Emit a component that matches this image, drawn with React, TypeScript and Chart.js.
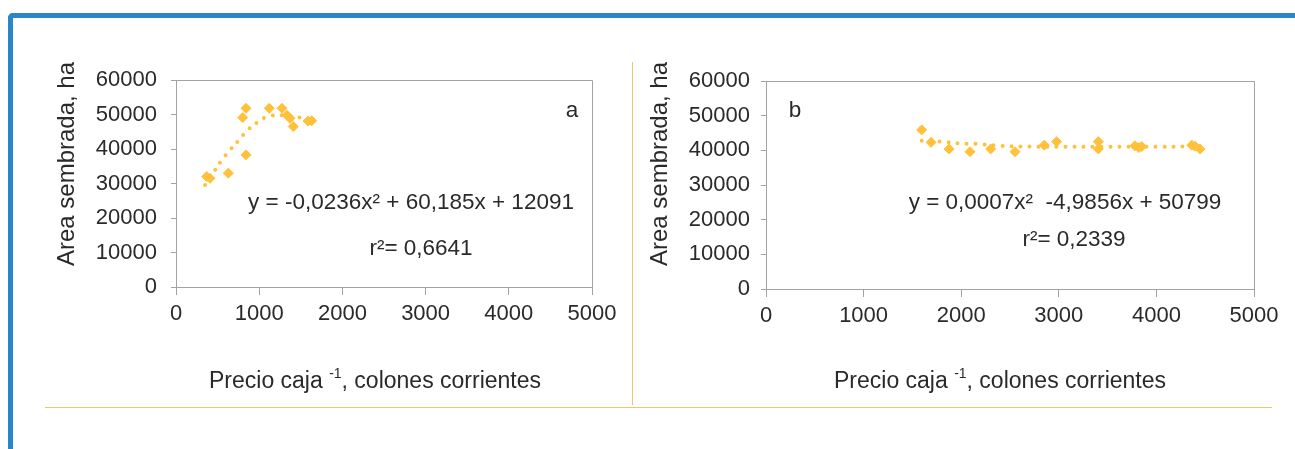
import React, { useEffect, useRef } from 'react';
import { Chart, registerables } from 'chart.js';

Chart.register(...registerables);

const FONT = '"Liberation Sans", Arial, Helvetica, sans-serif';
const TEXT = '#2a2a2a';
const GOLD = '#FFC13B';
const AXIS = '#a3a3a3';
const DIVIDER = '#EFC56E';
const BLUE = '#2A86C8';

// ---- Panel a ----
const precioA = [369, 409, 629, 802, 841, 841, 1121, 1274, 1334, 1370, 1410, 1587, 1631];
const areaA = [32000, 31500, 33000, 49100, 51800, 38300, 51800, 51800, 49800, 48900, 46500, 48100, 48200];
const trendPrecioA = [349, 450, 550, 650, 750, 850, 975, 1100, 1275, 1440, 1530, 1630];
const trendAreaA = [29600, 33200, 36800, 39700, 42400, 45200, 47700, 49400, 49800, 49400, 48600, 47300];

// ---- Panel b ----
const precioB = [1595, 1691, 1875, 2090, 2302, 2551, 2851, 2978, 3405, 3405, 3780, 3820, 3850, 4362, 4396, 4447];
const areaB = [45900, 42300, 40400, 39600, 40400, 39600, 41500, 42500, 42500, 40400, 41300, 40800, 41100, 41500, 41200, 40400];
const trendPrecioB = [1595, 1800, 2000, 2200, 2400, 2700, 3000, 3500, 4000, 4447];
const trendAreaB = [42800, 42500, 42000, 41800, 41300, 41100, 41050, 41050, 41050, 41100];

// ---- Axes ----
const xTicks = [0, 1000, 2000, 3000, 4000, 5000];
const yTicks = [0, 10000, 20000, 30000, 40000, 50000, 60000];

// ---- Texts ----
const yTitle = 'Area sembrada, ha';
const xTitleMain = 'Precio caja ';
const xTitleSup = '-1';
const xTitleRest = ', colones corrientes';
const labelA = 'a';
const eqA = 'y = -0,0236x² + 60,185x + 12091';
const r2A = 'r²= 0,6641';
const labelB = 'b';
const eqB = 'y = 0,0007x²  -4,9856x + 50799';
const r2B = 'r²= 0,2339';

type Layout = {
  left: number; top: number; width: number; height: number;
  yWidth: number; xHeight: number; padTop: number; padRight: number;
  tickPad: number;
  yTitleX: number; yTitleY: number;
  xTitleDX: number; xTitleDY: number;
  letterDX: number; letterDY: number;
  eqDX: number; eqDY: number;
  r2DX: number; r2DY: number;
};

const layoutA: Layout = {
  left: 40, top: 50, width: 585, height: 350,
  yWidth: 136, xHeight: 113, padTop: 30, padRight: 33, tickPad: 14,
  yTitleX: 27, yTitleY: 114,
  xTitleDX: 199, xTitleDY: 95,
  letterDX: 396, letterDY: 31,
  eqDX: 235, eqDY: 123,
  r2DX: 245, r2DY: 169,
};

const layoutB: Layout = {
  left: 640, top: 50, width: 647, height: 350,
  yWidth: 126, xHeight: 111, padTop: 31, padRight: 33, tickPad: 11,
  yTitleX: 20, yTitleY: 114,
  xTitleDX: 234, xTitleDY: 93,
  letterDX: 29, letterDY: 30,
  eqDX: 299, eqDY: 122,
  r2DX: 308, r2DY: 159,
};

function Panel(props: {
  xs: number[]; ys: number[]; txs: number[]; tys: number[];
  letter: string; eq: string; r2: string; L: Layout;
}) {
  const ref = useRef<HTMLCanvasElement | null>(null);
  useEffect(() => {
    const { xs, ys, txs, tys, letter, eq, r2, L } = props;
    if (!ref.current) return;
    const points = xs.map((x, i) => ({ x, y: ys[i] }));
    const trend = txs.map((x, i) => ({ x, y: tys[i] }));

    const boxPlugin = {
      id: 'box',
      beforeDatasetsDraw(chart: any) {
        const { ctx, chartArea: ca } = chart;
        ctx.save();
        ctx.strokeStyle = AXIS;
        ctx.lineWidth = 1;
        const l = Math.round(ca.left) + 0.5;
        const t = Math.round(ca.top) + 0.5;
        const r = Math.round(ca.right) + 0.5;
        const b = Math.round(ca.bottom) + 0.5;
        ctx.beginPath();
        ctx.moveTo(l, t);
        ctx.lineTo(r, t);
        ctx.lineTo(r, b);
        ctx.stroke();
        ctx.restore();
      },
      afterDraw(chart: any) {
        const { ctx, chartArea: ca } = chart;
        ctx.save();
        ctx.fillStyle = TEXT;
        // y title
        ctx.save();
        ctx.font = `24px ${FONT}`;
        ctx.translate(L.yTitleX, L.yTitleY);
        ctx.rotate(-Math.PI / 2);
        ctx.textAlign = 'center';
        ctx.textBaseline = 'middle';
        ctx.fillText(yTitle, 0, 0);
        ctx.restore();
        // x title with superscript
        const mainFont = `23px ${FONT}`;
        const supFont = `14px ${FONT}`;
        ctx.font = mainFont;
        const w1 = ctx.measureText(xTitleMain).width;
        const w3 = ctx.measureText(xTitleRest).width;
        ctx.font = supFont;
        const w2 = ctx.measureText(xTitleSup).width;
        const total = w1 + w2 + w3;
        const cx = ca.left + L.xTitleDX;
        const cy = ca.bottom + L.xTitleDY;
        let x0 = cx - total / 2;
        ctx.textAlign = 'left';
        ctx.textBaseline = 'middle';
        ctx.font = mainFont;
        ctx.fillText(xTitleMain, x0, cy);
        x0 += w1;
        ctx.font = supFont;
        ctx.fillText(xTitleSup, x0, cy - 8);
        x0 += w2;
        ctx.font = mainFont;
        ctx.fillText(xTitleRest, x0, cy);
        // letter and equation texts
        ctx.textAlign = 'center';
        ctx.font = `22.5px ${FONT}`;
        ctx.fillText(letter, ca.left + L.letterDX, ca.top + L.letterDY);
        ctx.fillText(eq, ca.left + L.eqDX, ca.top + L.eqDY);
        ctx.fillText(r2, ca.left + L.r2DX, ca.top + L.r2DY);
        ctx.restore();
      },
    };

    const chart = new Chart(ref.current, {
      type: 'scatter',
      data: {
        datasets: [
          {
            data: points,
            pointStyle: 'rectRot',
            pointRadius: 5,
            pointHoverRadius: 5,
            backgroundColor: GOLD,
            borderColor: GOLD,
            borderWidth: 1,
            showLine: false,
          },
          {
            data: trend,
            showLine: true,
            pointRadius: 0,
            pointHoverRadius: 0,
            borderColor: GOLD,
            backgroundColor: GOLD,
            borderWidth: 4,
            borderDash: [0, 9],
            borderCapStyle: 'round',
            tension: 0.4,
            fill: false,
          } as any,
        ],
      },
      options: {
        animation: false,
        responsive: false,
        devicePixelRatio: 1,
        events: [],
        layout: { padding: { top: L.padTop, right: L.padRight, left: 0, bottom: 0 } },
        plugins: { legend: { display: false }, tooltip: { enabled: false } },
        scales: {
          x: {
            type: 'linear',
            min: 0,
            max: 5000,
            afterBuildTicks: (s: any) => { s.ticks = xTicks.map((v) => ({ value: v })); },
            afterFit: (s: any) => { s.height = L.xHeight; },
            grid: { drawOnChartArea: false, drawTicks: true, tickLength: 8, color: AXIS },
            border: { display: true, color: AXIS },
            ticks: {
              color: TEXT,
              padding: 6,
              maxRotation: 0,
              font: { family: FONT, size: 22 },
              callback: (v: any) => String(v),
            },
            title: { display: false },
          },
          y: {
            type: 'linear',
            min: 0,
            max: 60000,
            afterBuildTicks: (s: any) => { s.ticks = yTicks.map((v) => ({ value: v })); },
            afterFit: (s: any) => { s.width = L.yWidth; },
            grid: { drawOnChartArea: false, drawTicks: true, tickLength: 5, color: AXIS },
            border: { display: true, color: AXIS },
            ticks: {
              color: TEXT,
              padding: L.tickPad,
              font: { family: FONT, size: 22 },
              callback: (v: any) => String(v),
            },
            title: { display: false },
          },
        },
      },
      plugins: [boxPlugin],
    } as any);
    return () => chart.destroy();
  }, []);
  const L = props.L;
  return (
    <canvas
      ref={ref}
      width={L.width}
      height={L.height}
      style={{ position: 'absolute', left: L.left, top: L.top, width: L.width, height: L.height }}
    />
  );
}

export default function App() {
  return (
    <div style={{ position: 'absolute', left: 0, top: 0, width: 1295, height: 449, overflow: 'hidden', background: '#fff' }}>
      <div
        style={{
          position: 'absolute', left: 8, top: 13, width: 1320, height: 460,
          borderTop: `5px solid ${BLUE}`, borderLeft: `5px solid ${BLUE}`, borderTopLeftRadius: 5,
        }}
      />
      <Panel xs={precioA} ys={areaA} txs={trendPrecioA} tys={trendAreaA} letter={labelA} eq={eqA} r2={r2A} L={layoutA} />
      <div style={{ position: 'absolute', left: 632, top: 62, width: 1, height: 343, background: DIVIDER }} />
      <Panel xs={precioB} ys={areaB} txs={trendPrecioB} tys={trendAreaB} letter={labelB} eq={eqB} r2={r2B} L={layoutB} />
      <div style={{ position: 'absolute', left: 45, top: 407, width: 1227, height: 1, background: DIVIDER }} />
    </div>
  );
}
